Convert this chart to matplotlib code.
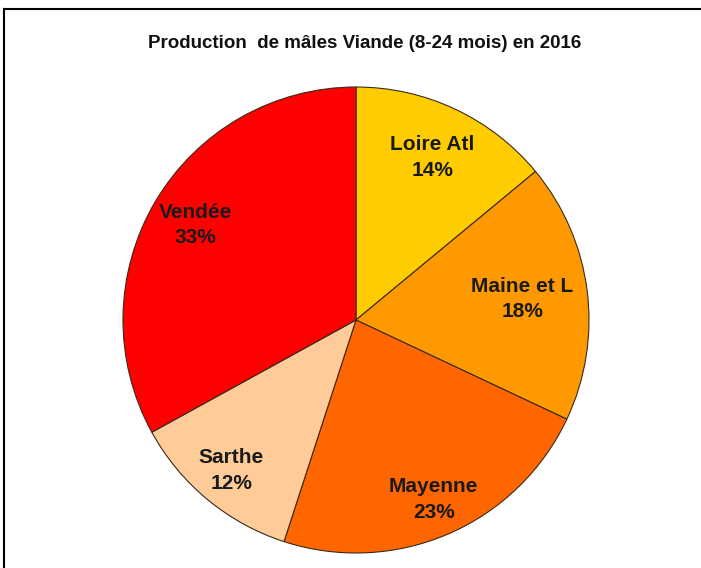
import matplotlib
matplotlib.use("Agg")
import numpy as np
import matplotlib.pyplot as plt
from matplotlib.lines import Line2D

plt.rcParams['font.family'] = ['Liberation Sans', 'DejaVu Sans']

categories = ["Loire Atl", "Maine et L", "Mayenne", "Sarthe", "Vendée"]
values = [14, 18, 23, 12, 33]
colors = ["#FFCC00", "#FF9900", "#FF6600", "#FFCC99", "#FF0000"]
title = "Production  de mâles Viande (8-24 mois) en 2016"

# radial distance of each label (fraction of radius)
label_dist = [0.77, 0.72, 0.84, 0.84, 0.80]

W, H = 701, 568
fig = plt.figure(figsize=(W / 100, H / 100), dpi=100)
fig.patch.set_facecolor("white")

cx, cy, r = 356, 320, 233
ax = fig.add_axes([(cx - r) / W, 1 - (cy + r) / H, 2 * r / W, 2 * r / H])
labels = [f"{c}\n{v}%" for c, v in zip(categories, values)]
wedges, texts = ax.pie(values, colors=colors, startangle=90, counterclock=False,
                       labels=labels, labeldistance=0.8,
                       wedgeprops=dict(edgecolor="#3a2a1a", linewidth=0.8),
                       textprops=dict(fontsize=15, fontweight="bold", color="#1a1a1a",
                                      ha="center", va="center", linespacing=1.45))
for w, t, d in zip(wedges, texts, label_dist):
    ang = np.deg2rad((w.theta1 + w.theta2) / 2)
    t.set_position((d * np.cos(ang), d * np.sin(ang)))
    t.set_horizontalalignment("center")
    t.set_verticalalignment("center")
ax.set_aspect("equal")
ax.set_xlim(-1, 1)
ax.set_ylim(-1, 1)

fig.text(365 / W, 1 - 44 / H, title, ha="center", va="center",
         fontsize=13.5, fontweight="bold", color="#111111")

fig.add_artist(Line2D([3.5 / W, 3.5 / W], [0, 1 - 8.5 / H], color="black", lw=1.5,
                      transform=fig.transFigure))
fig.add_artist(Line2D([3.5 / W, 1], [1 - 8.5 / H, 1 - 8.5 / H], color="black", lw=1.5,
                      transform=fig.transFigure))

fig.savefig("out.png", dpi=100)
